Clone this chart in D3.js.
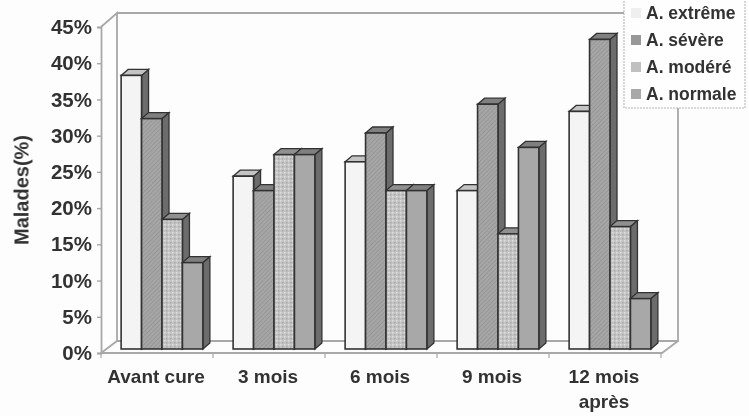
<!DOCTYPE html>
<html>
<head>
<meta charset="utf-8">
<script src="https://cdn.jsdelivr.net/npm/d3@7"></script>
<style>
html, body { margin: 0; padding: 0; background: #fdfdfd; overflow: hidden; }
svg { display: block; }
text { font-family: "Liberation Sans", Arial, sans-serif; font-weight: bold; fill: #333; }
</style>
</head>
<body>
<svg id="chart" width="749" height="416"></svg>
<script>
const categories = ["Avant cure", "3 mois", "6 mois", "9 mois", "12 mois|après"];
const seriesNames = ["A. extrême", "A. sévère", "A. modéré", "A. normale"];
const extreme = [38, 24, 26, 22, 33];
const severe = [32, 22, 30, 34, 43];
const modere = [18, 27, 22, 16, 17];
const normale = [12, 27, 22, 28, 7];
const yTicks = [0, 5, 10, 15, 20, 25, 30, 35, 40, 45];
const allSeries = [extreme, severe, modere, normale];

const depthX = 16, depthY = 12;
const barDx = 7, barDy = 6;
const floorY = 353;
const left = 101;
const right = 662;

const svg = d3.select("#chart");
const defs = svg.append("defs");

defs.append("filter").attr("id", "soft")
    .attr("filterUnits", "userSpaceOnUse")
    .attr("x", 0).attr("y", 0).attr("width", 749).attr("height", 416)
    .append("feGaussianBlur").attr("stdDeviation", 0.5);

const hatch = defs.append("pattern").attr("id", "hatch")
    .attr("width", 3).attr("height", 3)
    .attr("patternUnits", "userSpaceOnUse")
    .attr("patternTransform", "rotate(45)");
hatch.append("rect").attr("width", 3).attr("height", 3).attr("fill", "#a6a6a6");
hatch.append("rect").attr("width", 1).attr("height", 3).attr("fill", "#979797");

const dots = defs.append("pattern").attr("id", "dots")
    .attr("width", 4).attr("height", 4)
    .attr("patternUnits", "userSpaceOnUse");
dots.append("rect").attr("width", 4).attr("height", 4).attr("fill", "#c4c4c4");
dots.append("rect").attr("width", 1.5).attr("height", 1.5).attr("fill", "#dedede");
dots.append("rect").attr("x", 2).attr("y", 2).attr("width", 1.5).attr("height", 1.5).attr("fill", "#a8a8a8");

const fills = ["#f4f4f4", "url(#hatch)", "url(#dots)", "#a8a8a8"];
const legendFills = ["#efefef", "#989898", "#c0c0c0", "#a8a8a8"];
const topFills = ["#c4c4c4", "#808080", "#909090", "#808080"];

// bars sit a little inside the floor, so they get their own offsets
const x0 = d3.scaleBand().domain(categories).range([left + 5, left + 565]).paddingInner(0.27).paddingOuter(0.135);
const x1 = d3.scaleBand().domain(d3.range(4)).range([0, x0.bandwidth()]);
const y = d3.scaleLinear().domain([0, 45]).range([349, 25]);
const yFront = d3.scaleLinear().domain([0, 45]).range([floorY, 27]);

const g = svg.append("g").attr("filter", "url(#soft)");
const wall = "#a8a8a8";

// back wall + floor
g.append("path")
    .attr("d", `M${left},27 L${left + depthX},13 V${floorY - depthY} M${left + depthX},13 H${right + depthX} V${floorY - depthY} H${left + depthX} L${left},${floorY} H${right} L${right + depthX},${floorY - depthY}`)
    .attr("fill", "none").attr("stroke", wall).attr("stroke-width", 1.8);

// y axis
const yAxis = g.append("g")
    .attr("transform", `translate(${left},0)`)
    .call(d3.axisLeft(yFront).tickValues(yTicks).tickSize(4).tickPadding(5).tickFormat(d => d + "%"));
yAxis.select(".domain").attr("stroke", wall).attr("stroke-width", 1.8);
yAxis.selectAll("line").attr("stroke", wall).attr("stroke-width", 1.4);
yAxis.selectAll("text").attr("font-size", 20.5).attr("fill", "#333").style("font-family", '"Liberation Sans", Arial, sans-serif');

// x ticks
g.selectAll(".xtick").data(d3.range(6)).join("line")
    .attr("x1", d => left + d * 112).attr("x2", d => left + d * 112)
    .attr("y1", floorY).attr("y2", floorY + 5)
    .attr("stroke", wall).attr("stroke-width", 1.2);

// bars
const barData = [];
categories.forEach((c, i) => {
    allSeries.forEach((vals, s) => barData.push({ c, s, v: vals[i] }));
});

const bar = g.selectAll(".bar").data(barData).join("g").attr("class", "bar");
const bx = d => x0(d.c) + x1(d.s);
const w = x1.bandwidth();

bar.append("path")
    .attr("d", d => `M${bx(d) + w},${y(d.v)} l${barDx},${-barDy} V${y(0) - barDy} l${-barDx},${barDy} Z`)
    .attr("fill", "#6c6c6c").attr("stroke", "#333").attr("stroke-width", 1.3);
bar.append("path")
    .attr("d", d => `M${bx(d)},${y(d.v)} l${barDx},${-barDy} h${w} l${-barDx},${barDy} Z`)
    .attr("fill", d => topFills[d.s]).attr("stroke", "#333").attr("stroke-width", 1.3);
bar.append("rect")
    .attr("x", bx).attr("y", d => y(d.v))
    .attr("width", w).attr("height", d => y(0) - y(d.v))
    .attr("fill", d => fills[d.s]).attr("stroke", "#333").attr("stroke-width", 1.6);

// category labels
const catLabel = g.selectAll(".cat").data(categories).join("text")
    .attr("class", "cat")
    .attr("text-anchor", "middle")
    .attr("font-size", 19);
catLabel.selectAll("tspan").data(d => d.split("|").map(t => ({ t, c: d }))).join("tspan")
    .attr("x", d => x0(d.c) + x0.bandwidth() / 2 - 6)
    .attr("y", (d, i) => 383 + i * 25)
    .text(d => d.t);

// y title
g.append("text")
    .attr("transform", "translate(28.5,190) rotate(-90)")
    .attr("text-anchor", "middle")
    .attr("font-size", 20)
    .text("Malades(%)");

// legend
const legend = g.append("g");
legend.append("rect")
    .attr("x", 624).attr("y", -4).attr("width", 121).attr("height", 112)
    .attr("fill", "#fefefe").attr("stroke", "#b4b4b4").attr("stroke-width", 1.1)
    .attr("stroke-dasharray", "2,1");
const rowY = d3.scalePoint().domain(seriesNames).range([13, 94]);
const row = legend.selectAll(".row").data(seriesNames).join("g").attr("class", "row")
    .attr("transform", d => `translate(631,${rowY(d)})`);
row.append("rect").attr("x", 0).attr("y", -5).attr("width", 10).attr("height", 10)
    .attr("fill", (d, i) => legendFills[i]);
row.append("text").attr("x", 15).attr("y", 6).attr("font-size", 17.5).text(d => d);
</script>
</body>
</html>
